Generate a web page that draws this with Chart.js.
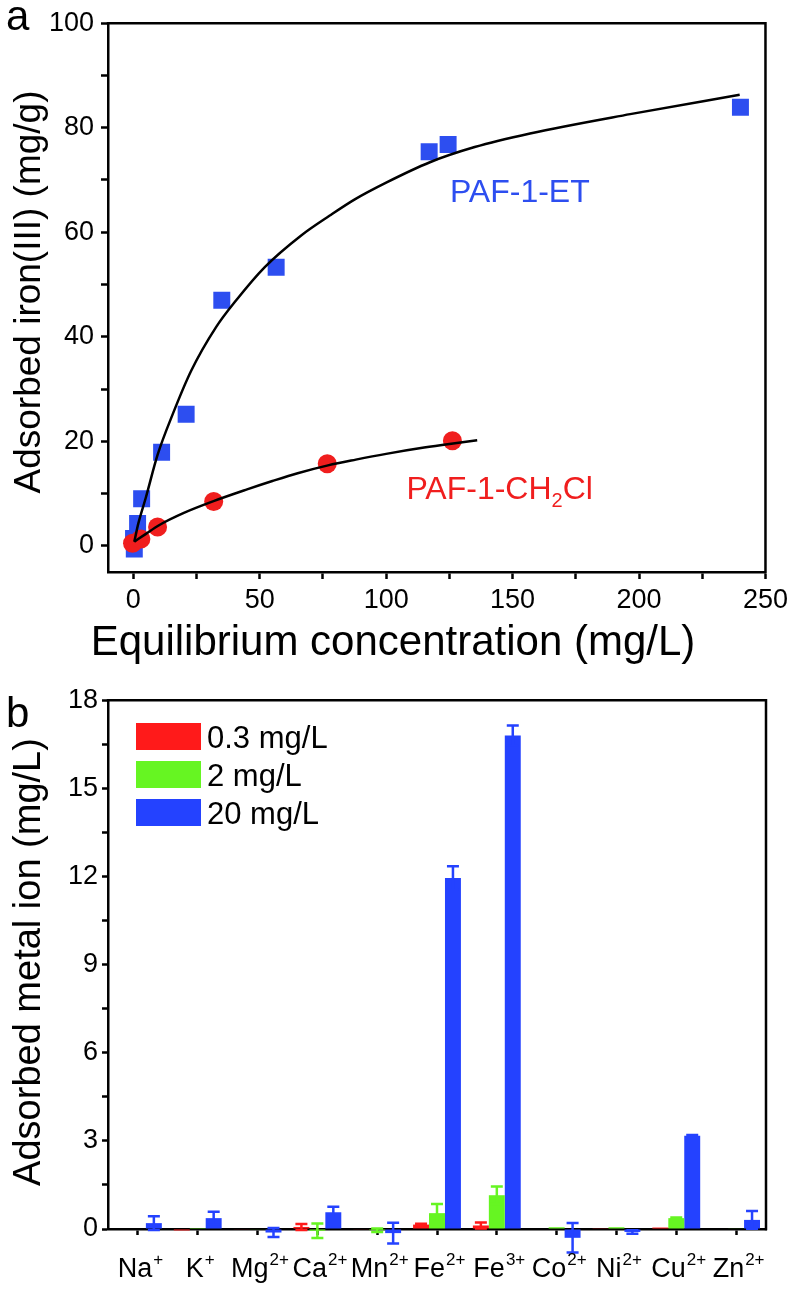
<!DOCTYPE html>
<html>
<head>
<meta charset="UTF-8">
<script src="https://cdn.jsdelivr.net/npm/chart.js@4.4.0/dist/chart.umd.min.js"></script>
<style>
  html, body { margin: 0; padding: 0; background: #fff; }
  #wrap { position: relative; width: 793px; height: 1293px; }
  .panel { position: absolute; left: 0; }
  #panelA { top: 0; }
  #panelB { top: 680px; }
</style>
<title>Iron adsorption</title>
</head>
<body>
<div id="wrap">
  <div class="panel" id="panelA"><canvas id="isotherm" width="793" height="680"></canvas></div>
  <div class="panel" id="panelB"><canvas id="selectivity" width="793" height="613"></canvas></div>
</div>

<script>
// ---- panel a: isotherms ----
const etConc = [0.4, 0.1, 1.7, 3.3, 11.2, 20.9, 35.0, 56.5, 117.0, 124.5, 240.1];
const etAds = [-0.6, 1.4, 4.3, 9.0, 17.9, 25.2, 47.0, 53.3, 75.4, 76.8, 83.9];
const clConc = [-0.3, 3.0, 9.6, 31.8, 76.7, 126.2];
const clAds = [0.5, 1.3, 3.6, 8.5, 15.7, 20.1];

// fitted curves
const etFitX = [0.4, 2, 5, 9.6, 15.6, 22.9, 32.8, 40.7, 51.9, 66.4, 77.7, 87.6, 100, 117.3, 135, 156.9, 196.5, 239.8];
const etFitY = [0.8, 4.3, 9.3, 17.4, 25.2, 33.5, 41.9, 47.0, 53.3, 59.4, 63.2, 66.3, 69.5, 73.4, 76.3, 78.9, 82.6, 86.3];
const clFitX = [0.4, 5, 10, 20, 32, 45, 55, 65, 77, 88, 100, 115, 125, 136];
const clFitY = [0.8, 2.3, 3.9, 6.3, 8.6, 10.8, 12.4, 13.9, 15.4, 16.5, 17.6, 18.8, 19.5, 20.2];

const xTicksA = [0, 25, 50, 75, 100, 125, 150, 175, 200, 225, 250];
const yTicksA = [0, 10, 20, 30, 40, 50, 60, 70, 80, 90, 100];

// ---- panel b: selectivity ----
const ions = ['Na', 'K', 'Mg', 'Ca', 'Mn', 'Fe', 'Fe', 'Co', 'Ni', 'Cu', 'Zn'];
const charges = ['+', '+', '2+', '2+', '2+', '2+', '3+', '2+', '2+', '2+', '2+'];
const seriesNames = ['0.3 mg/L', '2 mg/L', '20 mg/L'];
const low = [0, -0.05, -0.02, 0.07, -0.02, 0.15, 0.12, 0, 0.01, 0.05, 0];
const lowErr = [0, 0, 0, 0.1, 0, 0.03, 0.1, 0, 0, 0, 0];
const mid = [0, 0.03, -0.02, -0.06, -0.04, 0.54, 1.15, 0.06, 0.06, 0.37, 0.02];
const midErr = [0, 0, 0, 0.25, 0.06, 0.31, 0.3, 0, 0, 0.02, 0];
const high = [0.2, 0.37, -0.12, 0.57, -0.14, 11.95, 16.8, -0.3, -0.1, 3.17, 0.31];
const highErr = [0.23, 0.22, 0.15, 0.19, 0.35, 0.4, 0.34, 0.5, 0.06, 0.03, 0.3];
const yTicksB = [0, 1.5, 3, 4.5, 6, 7.5, 9, 10.5, 12, 13.5, 15, 16.5, 18];

const FONT = '"Liberation Sans", Arial, sans-serif';
const BLUE_PT = '#2d4ef0';
const RED_PT = '#f01e1e';
const barColors = ['#ff1a1a', '#66f522', '#2442ff'];
const errs = [lowErr, midErr, highErr];

// label anchors in data units (left edge, baseline)
const etLabelAt = [125.2, 65.8];
const clLabelAt = [108, 9.0];

const frame = {
    id: 'frame',
    afterDraw(chart) {
        const { ctx, chartArea: a } = chart;
        ctx.save();
        ctx.strokeStyle = '#000';
        ctx.lineWidth = 2.5;
        ctx.lineCap = 'square';
        ctx.beginPath();
        ctx.moveTo(a.left, a.top);
        ctx.lineTo(a.right, a.top);
        ctx.lineTo(a.right, a.bottom);
        ctx.stroke();
        ctx.restore();
    }
};

function axisCfg(extra) {
    return Object.assign({
        grid: { drawOnChartArea: false, tickLength: 7, tickColor: '#000', tickWidth: 2.5 },
        border: { color: '#000', width: 2.5 }
    }, extra);
}

const textA = {
    id: 'textA',
    afterDraw(chart) {
        const { ctx } = chart;
        const xs = chart.scales.x, ys = chart.scales.y;
        ctx.save();
        ctx.fillStyle = '#000';
        ctx.textBaseline = 'alphabetic';
        ctx.font = '42px ' + FONT;
        ctx.textAlign = 'left';
        ctx.fillText('a', 6, 30);
        ctx.textAlign = 'center';
        ctx.fillText('Equilibrium concentration (mg/L)', 393, 655);
        ctx.save();
        ctx.translate(40, 292);
        ctx.rotate(-Math.PI / 2);
        ctx.font = '37px ' + FONT;
        ctx.fillText('Adsorbed iron(III) (mg/g)', 0, 0);
        ctx.restore();

        ctx.textAlign = 'left';
        ctx.font = '32px ' + FONT;
        ctx.fillStyle = BLUE_PT;
        ctx.fillText('PAF-1-ET', xs.getPixelForValue(etLabelAt[0]), ys.getPixelForValue(etLabelAt[1]));

        ctx.fillStyle = RED_PT;
        let x = xs.getPixelForValue(clLabelAt[0]);
        const y = ys.getPixelForValue(clLabelAt[1]);
        ctx.fillText('PAF-1-CH', x, y);
        x += ctx.measureText('PAF-1-CH').width;
        ctx.font = '20px ' + FONT;
        ctx.fillText('2', x, y + 8);
        x += ctx.measureText('2').width;
        ctx.font = '32px ' + FONT;
        ctx.fillText('Cl', x, y);
        ctx.restore();
    }
};

new Chart(document.getElementById('isotherm'), {
    type: 'scatter',
    data: {
        datasets: [
            {
                label: 'PAF-1-ET fit',
                data: etFitX.map((x, i) => ({ x: x, y: etFitY[i] })),
                showLine: true, borderColor: '#000', borderWidth: 2.5,
                pointRadius: 0, cubicInterpolationMode: 'monotone', fill: false
            },
            {
                label: 'PAF-1-CH2Cl fit',
                data: clFitX.map((x, i) => ({ x: x, y: clFitY[i] })),
                showLine: true, borderColor: '#000', borderWidth: 2.5,
                pointRadius: 0, cubicInterpolationMode: 'monotone', fill: false
            },
            {
                label: 'PAF-1-CH2Cl',
                data: clConc.map((x, i) => ({ x: x, y: clAds[i] })),
                pointStyle: 'circle', pointRadius: 9.5,
                backgroundColor: RED_PT, pointBorderWidth: 0
            },
            {
                label: 'PAF-1-ET',
                data: etConc.map((x, i) => ({ x: x, y: etAds[i] })),
                pointStyle: 'rect', pointRadius: 12,
                backgroundColor: BLUE_PT, pointBorderWidth: 0
            }
        ]
    },
    options: {
        responsive: false,
        animation: false,
        layout: { padding: { left: 0, top: 14, right: 27, bottom: 0 } },
        plugins: { legend: { display: false }, tooltip: { enabled: false } },
        scales: {
            x: axisCfg({
                type: 'linear', min: -10, max: 250,
                afterBuildTicks: s => { s.ticks = xTicksA.map(v => ({ value: v })); },
                afterFit: s => { s.height = 108; },
                ticks: {
                    callback: v => (v % 50 === 0 ? v : ''),
                    font: { family: FONT, size: 27 }, color: '#000',
                    padding: 5, maxRotation: 0, autoSkip: false
                }
            }),
            y: axisCfg({
                type: 'linear', min: -5, max: 100,
                afterBuildTicks: s => { s.ticks = yTicksA.map(v => ({ value: v })); },
                afterFit: s => { s.width = 108; },
                ticks: {
                    callback: v => (v % 20 === 0 ? v : ''),
                    font: { family: FONT, size: 27 }, color: '#000',
                    padding: 7, autoSkip: false
                }
            })
        }
    },
    plugins: [frame, textA]
});

// ---- panel b ----
const errorBars = {
    id: 'errorBars',
    afterDatasetsDraw(chart) {
        const { ctx } = chart;
        const ys = chart.scales.y;
        ctx.save();
        ctx.lineWidth = 2.5;
        chart.data.datasets.forEach((ds, i) => {
            const meta = chart.getDatasetMeta(i);
            ctx.strokeStyle = ds.backgroundColor;
            meta.data.forEach((bar, j) => {
                const e = errs[i][j];
                if (!e) return;
                const v = ds.data[j];
                const yTop = ys.getPixelForValue(v + e);
                const yBot = ys.getPixelForValue(v - e);
                ctx.beginPath();
                ctx.moveTo(bar.x, yTop); ctx.lineTo(bar.x, yBot);
                ctx.moveTo(bar.x - 6, yTop); ctx.lineTo(bar.x + 6, yTop);
                ctx.moveTo(bar.x - 6, yBot); ctx.lineTo(bar.x + 6, yBot);
                ctx.stroke();
            });
        });
        ctx.restore();
    }
};

const textB = {
    id: 'textB',
    afterDraw(chart) {
        const { ctx } = chart;
        const xs = chart.scales.x;
        ctx.save();
        ctx.fillStyle = '#000';
        ctx.textBaseline = 'alphabetic';
        ctx.textAlign = 'left';
        ctx.font = '42px ' + FONT;
        ctx.fillText('b', 6, 47);

        ctx.save();
        ctx.translate(40, 282);
        ctx.rotate(-Math.PI / 2);
        ctx.textAlign = 'center';
        ctx.font = '38px ' + FONT;
        ctx.fillText('Adsorbed metal ion (mg/L)', 0, 0);
        ctx.restore();

        // category labels with superscript charges
        ions.forEach((name, i) => {
            const cx = xs.getPixelForTick(i);
            ctx.font = '27px ' + FONT;
            const wMain = ctx.measureText(name).width;
            ctx.font = '17px ' + FONT;
            const wSup = ctx.measureText(charges[i]).width;
            const x = cx - (wMain + wSup) / 2 + 2;
            ctx.font = '27px ' + FONT;
            ctx.fillText(name, x, 597);
            ctx.font = '17px ' + FONT;
            ctx.fillText(charges[i], x + wMain + 1, 585);
        });

        // legend
        chart.data.datasets.forEach((ds, i) => {
            const top = 43 + i * 38;
            ctx.fillStyle = ds.backgroundColor;
            ctx.fillRect(136, top, 65, 27);
            ctx.fillStyle = '#000';
            ctx.font = '31px ' + FONT;
            ctx.fillText(ds.label, 207, top + 25);
        });
        ctx.restore();
    }
};

new Chart(document.getElementById('selectivity'), {
    type: 'bar',
    data: {
        labels: ions.map((n, i) => n + charges[i]),
        datasets: [
            { label: seriesNames[0], data: low, backgroundColor: barColors[0] },
            { label: seriesNames[1], data: mid, backgroundColor: barColors[1] },
            { label: seriesNames[2], data: high, backgroundColor: barColors[2] }
        ]
    },
    options: {
        responsive: false,
        animation: false,
        layout: { padding: { left: 0, top: 17, right: 27, bottom: 0 } },
        datasets: { bar: { categoryPercentage: 0.8, barPercentage: 1.0, clip: false } },
        plugins: { legend: { display: false }, tooltip: { enabled: false } },
        scales: {
            x: axisCfg({
                z: 1,
                grid: { offset: false, drawOnChartArea: false, tickLength: 6, tickColor: '#000', tickWidth: 2.5 },
                afterFit: s => { s.height = 64; },
                ticks: { callback: () => '', autoSkip: false }
            }),
            y: axisCfg({
                min: 0, max: 18,
                afterBuildTicks: s => { s.ticks = yTicksB.map(v => ({ value: v })); },
                afterFit: s => { s.width = 108; },
                grid: { drawOnChartArea: false, tickLength: 6, tickColor: '#000', tickWidth: 2.5 },
                ticks: {
                    callback: v => (v % 3 === 0 ? v : ''),
                    font: { family: FONT, size: 27 }, color: '#000',
                    padding: 4, autoSkip: false
                }
            })
        }
    },
    plugins: [frame, errorBars, textB]
});
</script>
</body>
</html>
